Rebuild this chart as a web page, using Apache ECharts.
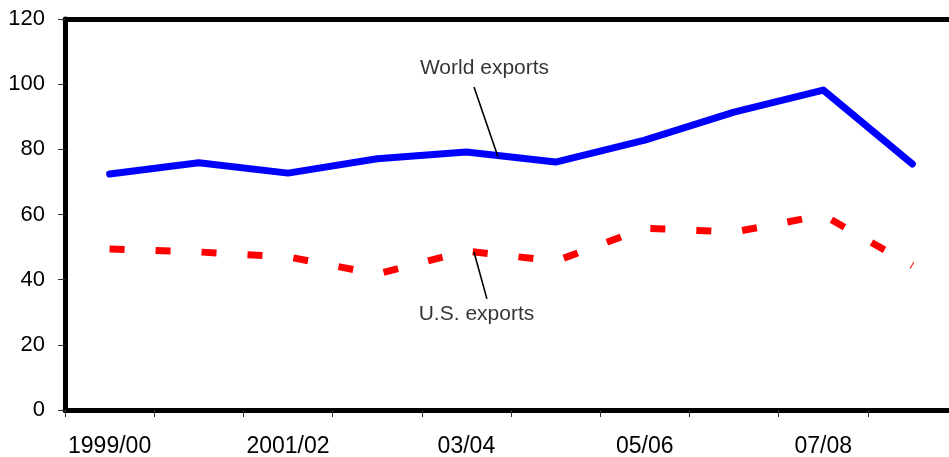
<!DOCTYPE html>
<html>
<head>
<meta charset="utf-8">
<script src="https://cdn.jsdelivr.net/npm/echarts@6/dist/echarts.min.js"></script>
<style>
  html, body { margin: 0; padding: 0; background: #fff; }
  #chart { width: 949px; height: 457px; }
</style>
</head>
<body>
<div id="chart"></div>
<script>
// Fiscal years on the horizontal axis
const categories = ['1999/00', '2000/01', '2001/02', '2002/03', '2003/04',
                    '2004/05', '2005/06', '2006/07', '2007/08', '2008/09'];
// Labels printed under the axis (every other year)
const tickLabels = ['1999/00', '', '2001/02', '', '03/04', '', '05/06', '', '07/08', ''];
// Export values
const worldExports = [72.4, 75.9, 72.7, 77.1, 79.2, 76.1, 82.8, 91.4, 98.2, 75.5];
const usExports = [49.4, 48.5, 47.0, 41.7, 48.8, 45.7, 55.8, 54.6, 59.8, 44.3];
// Value-axis ticks
const yTicks = [0, 20, 40, 60, 80, 100, 120];

// Callout text and leader lines, placed in data units (x = category index)
const callouts = [
  { text: 'World exports', at: [4.203, 105.0], from: [4.085, 99.1], to: [4.354, 77.7] },
  { text: 'U.S. exports', at: [4.113, 29.3], from: [4.085, 48.5], to: [4.23, 34.1] }
];

const FONT = "'Liberation Sans', Arial, sans-serif";
const chart = echarts.init(document.getElementById('chart'), null, { renderer: 'canvas' });

chart.setOption({
  animation: false,
  backgroundColor: '#ffffff',
  textStyle: { fontFamily: FONT },
  // plot area runs slightly past the right edge of the canvas
  grid: {
    left: 65, width: 892, top: 19, bottom: 47,
    containLabel: false, outerBoundsMode: 'none'
  },
  xAxis: [
    {
      type: 'category',
      data: categories,
      boundaryGap: true,
      axisLine: { show: true, onZero: false, lineStyle: { color: '#000', width: 5 } },
      axisTick: { show: true, interval: 0, length: 7, lineStyle: { color: '#333', width: 1 } },
      axisLabel: {
        interval: 0, margin: 25, color: '#000', fontSize: 23, fontFamily: FONT,
        formatter: (v, i) => tickLabels[i]
      },
      splitLine: { show: false }
    },
    {
      // Top frame edge, and a continuous x scale for the callouts
      type: 'value',
      position: 'top',
      min: -0.5,
      max: 9.5,
      axisLine: { show: true, onZero: false, lineStyle: { color: '#000', width: 5 } },
      axisTick: { show: false },
      axisLabel: { show: false },
      splitLine: { show: false }
    }
  ],
  yAxis: {
    type: 'value',
    position: 'left',
    min: yTicks[0],
    max: yTicks[yTicks.length - 1],
    interval: 20,
    axisLine: { show: true, onZero: false, lineStyle: { color: '#000', width: 5 } },
    axisTick: { show: true, length: 7, lineStyle: { color: '#333', width: 1 } },
    axisLabel: { margin: 20, color: '#000', fontSize: 22, fontFamily: FONT },
    splitLine: { show: false }
  },
  series: [
    {
      name: 'World exports',
      type: 'line',
      data: worldExports,
      symbol: 'none',
      lineStyle: { color: '#0000ff', width: 7, cap: 'round', join: 'round' },
      z: 3
    },
    {
      name: 'U.S. exports',
      type: 'line',
      data: usExports,
      symbol: 'none',
      lineStyle: { color: '#ff0000', width: 7, type: [15, 31], cap: 'butt', join: 'miter' },
      z: 3
    },
    {
      name: 'leaders',
      type: 'lines',
      coordinateSystem: 'cartesian2d',
      xAxisIndex: 1,
      polyline: false,
      silent: true,
      lineStyle: { color: '#000', width: 1.6, opacity: 1, curveness: 0 },
      data: callouts.map(c => ({ coords: [c.from, c.to] })),
      z: 4
    },
    {
      name: 'callouts',
      type: 'scatter',
      xAxisIndex: 1,
      symbolSize: 1,
      silent: true,
      itemStyle: { color: 'rgba(0,0,0,0)' },
      label: {
        show: true, position: 'inside', color: '#000', fontSize: 21, fontFamily: FONT,
        textBorderWidth: 0,
        formatter: p => p.data[2]
      },
      data: callouts.map(c => [c.at[0], c.at[1], c.text]),
      z: 5
    }
  ]
});
</script>
</body>
</html>
